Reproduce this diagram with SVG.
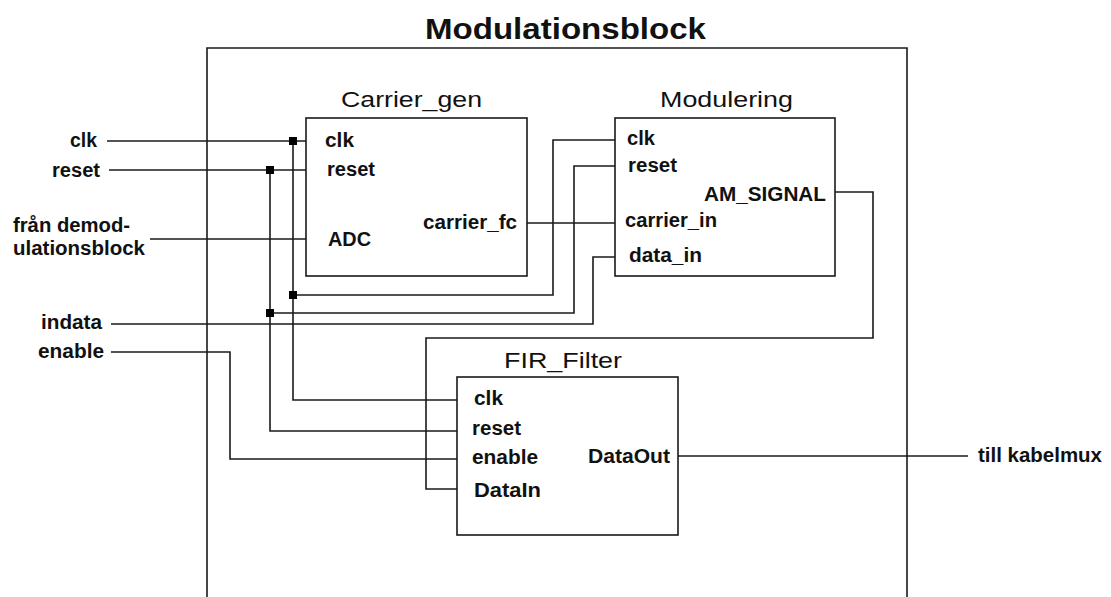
<svg xmlns="http://www.w3.org/2000/svg" width="1111" height="597" viewBox="0 0 1111 597">
<style>
.bg{fill:#fff}
.box{fill:none;stroke:#1a1a1a;stroke-width:1.6}
.w{fill:none;stroke:#1a1a1a;stroke-width:1.6}
.lbl{font-family:"Liberation Sans",Arial,sans-serif;font-size:20px;font-weight:bold;fill:#111}
.ttl{font-family:"Liberation Sans",Arial,sans-serif;font-size:22px;font-weight:normal;fill:#111}
.big{font-family:"Liberation Sans",Arial,sans-serif;font-size:29px;font-weight:bold;fill:#111}
.dot{fill:#000}
</style>
<rect class="bg" x="0" y="0" width="1111" height="597"/>

<g id="modulationsblock">
  <path class="box" d="M207,600 V48 H907 V600"/>
  <text class="big" x="425" y="39" textLength="281" lengthAdjust="spacingAndGlyphs">Modulationsblock</text>
</g>

<g id="connectors">
  <!-- clk -->
  <path class="w" d="M107,141 H306"/>
  <path class="w" d="M293,141 V400 H457"/>
  <path class="w" d="M293,295 H553 V140 H615"/>
  <!-- reset -->
  <path class="w" d="M109,170 H306"/>
  <path class="w" d="M270,170 V431 H457"/>
  <path class="w" d="M270,313 H574 V166 H615"/>
  <!-- ADC -->
  <path class="w" d="M150,239 H306"/>
  <!-- carrier -->
  <path class="w" d="M527,223 H615"/>
  <!-- indata -->
  <path class="w" d="M111,324 H593 V257 H615"/>
  <!-- enable -->
  <path class="w" d="M111,352 H230 V459 H457"/>
  <!-- AM_SIGNAL -> DataIn -->
  <path class="w" d="M835,192 H873 V338 H426 V489 H457"/>
  <!-- DataOut -->
  <path class="w" d="M678,456 H968"/>
  <!-- junctions -->
  <rect class="dot" x="289" y="137" width="8" height="8"/>
  <rect class="dot" x="266" y="166" width="8" height="8"/>
  <rect class="dot" x="289" y="291" width="8" height="8"/>
  <rect class="dot" x="266" y="309" width="8" height="8"/>
</g>

<g id="inputs">
  <text class="lbl" x="70" y="147" textLength="27" lengthAdjust="spacingAndGlyphs">clk</text>
  <text class="lbl" x="52" y="177" textLength="48" lengthAdjust="spacingAndGlyphs">reset</text>
  <text class="lbl" x="13" y="232" textLength="117" lengthAdjust="spacingAndGlyphs">från demod-</text>
  <text class="lbl" x="13" y="255" textLength="132" lengthAdjust="spacingAndGlyphs">ulationsblock</text>
  <text class="lbl" x="41" y="329" textLength="61" lengthAdjust="spacingAndGlyphs">indata</text>
  <text class="lbl" x="38" y="358" textLength="66" lengthAdjust="spacingAndGlyphs">enable</text>
</g>

<g id="output">
  <text class="lbl" x="978" y="462" textLength="124" lengthAdjust="spacingAndGlyphs">till kabelmux</text>
</g>

<g id="carrier_gen">
  <rect class="box" x="306" y="118" width="221" height="158"/>
  <text class="ttl" x="341" y="107" textLength="141" lengthAdjust="spacingAndGlyphs">Carrier_gen</text>
  <text class="lbl" x="325" y="147" textLength="29" lengthAdjust="spacingAndGlyphs">clk</text>
  <text class="lbl" x="327" y="176" textLength="48" lengthAdjust="spacingAndGlyphs">reset</text>
  <text class="lbl" x="328" y="246" textLength="43" lengthAdjust="spacingAndGlyphs">ADC</text>
  <text class="lbl" x="423" y="229" textLength="94" lengthAdjust="spacingAndGlyphs">carrier_fc</text>
</g>

<g id="modulering">
  <rect class="box" x="615" y="118" width="220" height="158"/>
  <text class="ttl" x="660" y="107" textLength="133" lengthAdjust="spacingAndGlyphs">Modulering</text>
  <text class="lbl" x="627" y="145" textLength="28" lengthAdjust="spacingAndGlyphs">clk</text>
  <text class="lbl" x="628" y="172" textLength="49" lengthAdjust="spacingAndGlyphs">reset</text>
  <text class="lbl" x="704" y="201" textLength="122" lengthAdjust="spacingAndGlyphs">AM_SIGNAL</text>
  <text class="lbl" x="625" y="227" textLength="92" lengthAdjust="spacingAndGlyphs">carrier_in</text>
  <text class="lbl" x="629" y="262" textLength="73" lengthAdjust="spacingAndGlyphs">data_in</text>
</g>

<g id="fir_filter">
  <rect class="box" x="457" y="377" width="221" height="158"/>
  <text class="ttl" x="504" y="368" textLength="118" lengthAdjust="spacingAndGlyphs">FIR_Filter</text>
  <text class="lbl" x="474" y="405" textLength="29" lengthAdjust="spacingAndGlyphs">clk</text>
  <text class="lbl" x="472" y="435" textLength="49" lengthAdjust="spacingAndGlyphs">reset</text>
  <text class="lbl" x="472" y="464" textLength="66" lengthAdjust="spacingAndGlyphs">enable</text>
  <text class="lbl" x="474" y="497" textLength="67" lengthAdjust="spacingAndGlyphs">DataIn</text>
  <text class="lbl" x="588" y="463" textLength="82" lengthAdjust="spacingAndGlyphs">DataOut</text>
</g>
</svg>
